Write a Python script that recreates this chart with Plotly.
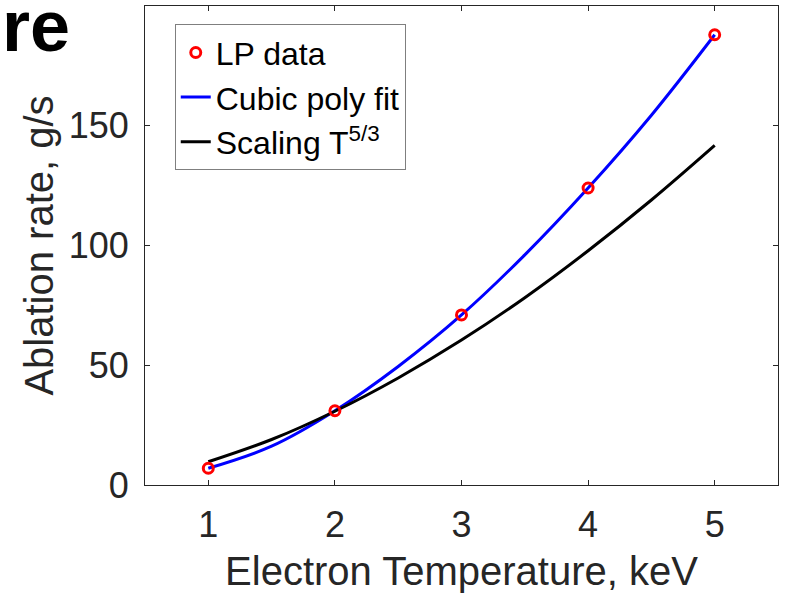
import plotly.graph_objects as go

# Data
lp_T = [1, 2, 3, 4, 5]
lp_rate = [7, 31, 71, 124, 188]

curve_T = [1, 1.5, 2, 2.5, 3, 3.5, 4, 4.5, 5]
fit_rate = [7, 16.2, 31, 49.5, 71, 96.1, 124, 154.4, 188]
scaling_rate = [9.7, 19.0, 30.8, 44.7, 60.5, 78.2, 97.8, 119, 141.8]

x_ticks = [1, 2, 3, 4, 5]
y_ticks = [0, 50, 100, 150]

FONT = "Liberation Sans, Arial, sans-serif"
AX = "#262626"

fig = go.Figure()
fig.add_trace(go.Scatter(x=curve_T, y=fit_rate, mode="lines", name="Cubic poly fit",
                         line=dict(color="#0000ff", width=3, shape="spline", smoothing=1.0),
                         legendgroup="b", legendrank=2))
fig.add_trace(go.Scatter(x=curve_T, y=scaling_rate, mode="lines", name="Scaling T<sup>5/3</sup>",
                         line=dict(color="#000000", width=3, shape="spline", smoothing=1.0),
                         legendgroup="c", legendrank=3))
fig.add_trace(go.Scatter(x=lp_T, y=lp_rate, mode="markers", name="LP data",
                         marker=dict(symbol="circle-open", size=10, color="#ff0000",
                                     line=dict(width=3, color="#ff0000")),
                         legendgroup="a", legendrank=1))

fig.update_layout(
    width=795, height=595,
    margin=dict(l=145, r=17, t=6, b=110),
    paper_bgcolor="white", plot_bgcolor="white",
    font=dict(family=FONT, color=AX),
    showlegend=True,
    legend=dict(x=0.047, y=0.962, xanchor="left", yanchor="top",
                bgcolor="white", bordercolor="#7f7f7f", borderwidth=1,
                font=dict(size=32, color="#000000", family=FONT),
                tracegroupgap=1, itemwidth=30, traceorder="normal"),
    xaxis=dict(range=[0.5, 5.5], tickvals=x_ticks, ticktext=[str(v) for v in x_ticks],
               showgrid=False, zeroline=False, showline=True, linecolor=AX, linewidth=1,
               mirror="ticks", ticks="inside", ticklen=5, tickcolor=AX,
               tickfont=dict(size=36, color=AX), ticklabelstandoff=8,
               title=dict(text="Electron Temperature, keV", font=dict(size=40, color=AX), standoff=12)),
    yaxis=dict(range=[0, 200], tickvals=y_ticks, ticktext=[str(v) for v in y_ticks],
               showgrid=False, zeroline=False, showline=True, linecolor=AX, linewidth=1,
               mirror="ticks", ticks="inside", ticklen=5, tickcolor=AX,
               tickfont=dict(size=36, color=AX), ticklabelstandoff=8,
               title=dict(text="Ablation rate, g/s", font=dict(size=40, color=AX), standoff=2)),
)

fig.add_annotation(text="<b>re</b>", xref="paper", yref="paper", x=-145/633, y=1 + 6/479,
                   xanchor="left", yanchor="top", showarrow=False, xshift=0, yshift=16,
                   font=dict(size=72, color="#000000", family=FONT))

fig.write_html("out.html")
